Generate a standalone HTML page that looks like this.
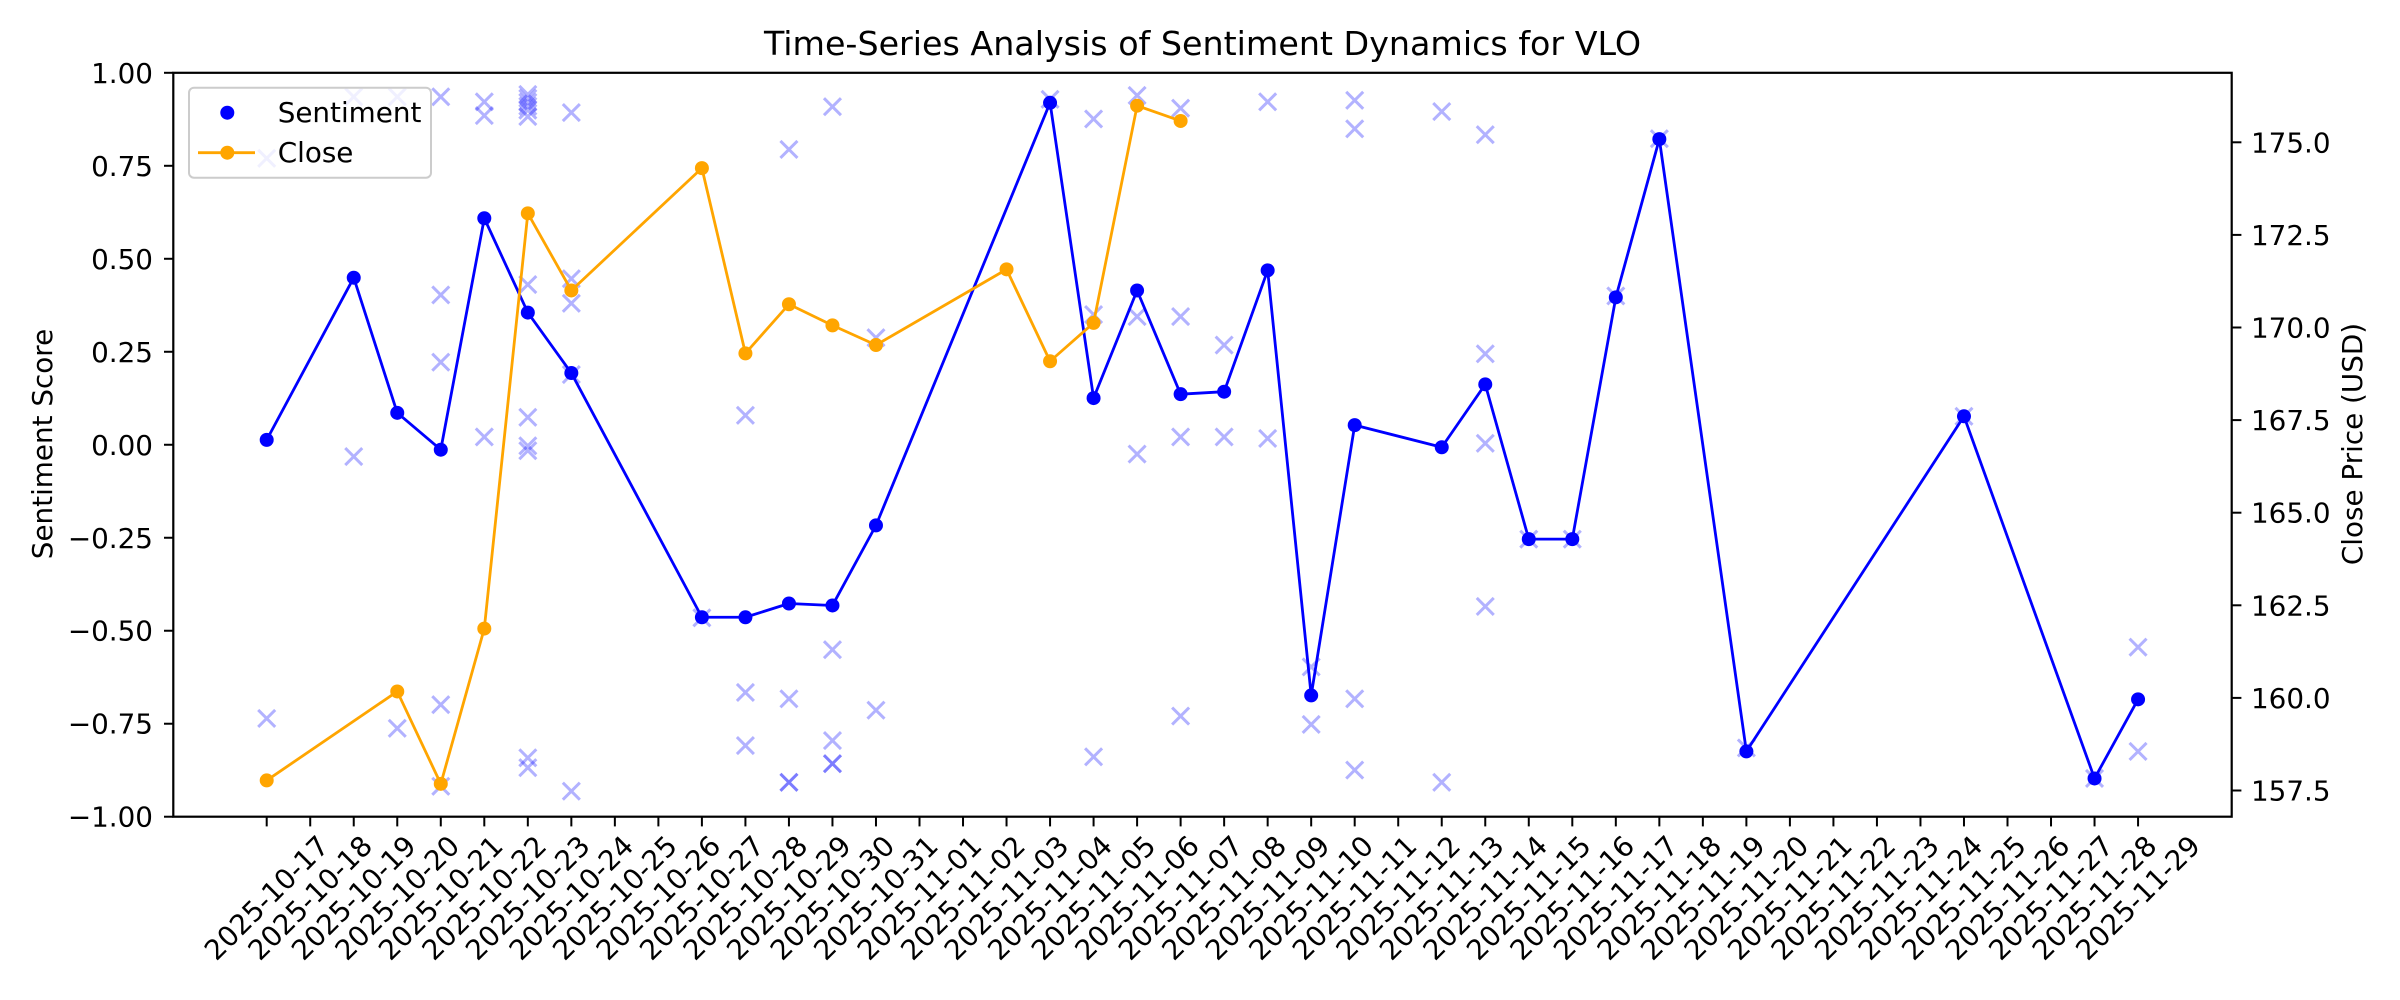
<!DOCTYPE html>
<html><head><meta charset="utf-8"><style>
html,body{margin:0;padding:0;background:#fff;}
svg{display:block;font-family:"DejaVu Sans","Liberation Sans",sans-serif;}
</style></head><body>
<svg id="s" width="2400" height="1000" viewBox="0 0 2400 1000" xmlns="http://www.w3.org/2000/svg">
<rect width="2400" height="1000" fill="#fff"/>
<g id="cross"></g>
<g id="lines"></g>
<rect x="173.3" y="72.8" width="2058.4" height="743.9" fill="none" stroke="#000" stroke-width="2.2"/>
<g id="axes" font-size="27.8" fill="#000"></g>
<text x="1202.5" y="55" font-size="33.3" text-anchor="middle">Time-Series Analysis of Sentiment Dynamics for VLO</text>
<text transform="translate(52,444) rotate(-90)" font-size="27.8" text-anchor="middle">Sentiment Score</text>
<text transform="translate(2362,444) rotate(-90)" font-size="27.8" text-anchor="middle">Close Price (USD)</text>
<g>
<rect x="189" y="87.7" width="242" height="90" rx="5" fill="#fff" fill-opacity="0.8" stroke="#ccc" stroke-width="2"/>
<circle cx="227.3" cy="112.7" r="7" fill="#00f"/>
<text x="277.7" y="122" font-size="27.8">Sentiment</text>
<line x1="198" y1="152.7" x2="255" y2="152.7" stroke="#FFA500" stroke-width="2.8"/>
<circle cx="227.3" cy="152.7" r="7" fill="#FFA500"/>
<text x="277.7" y="162" font-size="27.8">Close</text>
</g>
</svg>
<script>
var NS="http://www.w3.org/2000/svg";
function X(i){return 266.7+43.52*i;}
function Y(zy){return 72.3+(zy-25)*0.4914;}
function el(p,t,a,txt){var e=document.createElementNS(NS,t);for(var k in a)e.setAttribute(k,a[k]);if(txt!==undefined)e.textContent=txt;p.appendChild(e);return e;}
var cg=document.getElementById('cross'),lg=document.getElementById('lines'),ag=document.getElementById('axes');
var crosses=[[0,200],[2,75],[3,75],[4,75],[5,85],[5,113],[6,70],[6,78],[6,86],[6,94],[6,102],[6,115],[7,107],[0,1340],[2,807],[3,1360],[4,478],[4,615],[4,1312],[4,1478],[5,767],[6,457],[6,727],[6,785],[6,795],[6,1420],[6,1440],[7,445],[7,495],[7,1488],[7,640],
[13,95],[12,182],[14,565],[11,723],[10,1135],[13,1200],[11,1287],[11,1395],[12,1300],[12,1470],[12,1470],[13,1385],[13,1432],[13,1432],[14,1323],[18,80],[19,120],[20,72],[21,98],[19,518],[20,522],[21,522],[20,802],[21,767],[19,1418],[21,1335],
[23,85],[25,82],[25,140],[27,105],[28,152],[22,580],[22,767],[23,770],[28,598],[28,780],[28,1112],[24,1235],[24,1352],[25,1300],[25,1445],[27,1470],[29,975],[30,975],[31,480],[32,160],[34,1400],[39,725],[42,1462],[43,1195],[43,1407]];
crosses.forEach(function(c){var x=X(c[0]),y=Y(c[1]),d=8.5;
el(cg,'path',{d:'M'+(x-d)+' '+(y-d)+'L'+(x+d)+' '+(y+d)+'M'+(x-d)+' '+(y+d)+'L'+(x+d)+' '+(y-d),stroke:'#00f','stroke-opacity':0.3,'stroke-width':3,fill:'none'});});
var sent=[[0,773],[2,443],[3,718],[4,793],[5,322],[6,514],[7,637],[10,1134],[11,1134],[12,1106],[13,1110],[14,947],[18,87],[19,688],[20,469],[21,680],[22,675],[23,428],[24,1293],[25,743],[27,788],[28,660],[29,975],[30,975],[31,483],[32,161],[34,1407],[39,725],[42,1462],[43,1301]];
var close=[[0,1466],[3,1285],[4,1473],[5,1157],[6,312],[7,469],[10,220],[11,597],[12,497],[13,540],[14,580],[17,426],[18,613],[19,535],[20,93],[21,124]];
function series(d,col){el(lg,'polyline',{points:d.map(function(p){return X(p[0])+','+Y(p[1]);}).join(' '),fill:'none',stroke:col,'stroke-width':2.8,'stroke-linejoin':'round'});
d.forEach(function(p){el(lg,'circle',{cx:X(p[0]),cy:Y(p[1]),r:7,fill:col});});}
series(sent,'#0000FF');series(close,'#FFA500');
var lv=['1.00','0.75','0.50','0.25','0.00','\u22120.25','\u22120.50','\u22120.75','\u22121.00'];
for(var k=0;k<9;k++){var y=72.8+k*92.99;el(ag,'line',{x1:164,y1:y,x2:173.3,y2:y,stroke:'#000','stroke-width':2});el(ag,'text',{x:153,y:y+10,'text-anchor':'end'},lv[k]);}
var rv=['157.5','160.0','162.5','165.0','167.5','170.0','172.5','175.0'];
for(var k=0;k<8;k++){var y=790.5-k*92.6;el(ag,'line',{x1:2231.7,y1:y,x2:2241.4,y2:y,stroke:'#000','stroke-width':2});el(ag,'text',{x:2251,y:y+10},rv[k]);}
var d0=new Date(Date.UTC(2025,9,17));
for(var i=0;i<44;i++){var d=new Date(d0.getTime()+i*86400000);var s=d.getUTCFullYear()+'-'+('0'+(d.getUTCMonth()+1)).slice(-2)+'-'+('0'+d.getUTCDate()).slice(-2);
var x=X(i);el(ag,'line',{x1:x,y1:816.7,x2:x,y2:826.4,stroke:'#000','stroke-width':2});
el(ag,'text',{x:0,y:0,'text-anchor':'middle','dominant-baseline':'central',transform:'translate('+x+',898) rotate(-45)'},s);}
</script>
</body></html>
